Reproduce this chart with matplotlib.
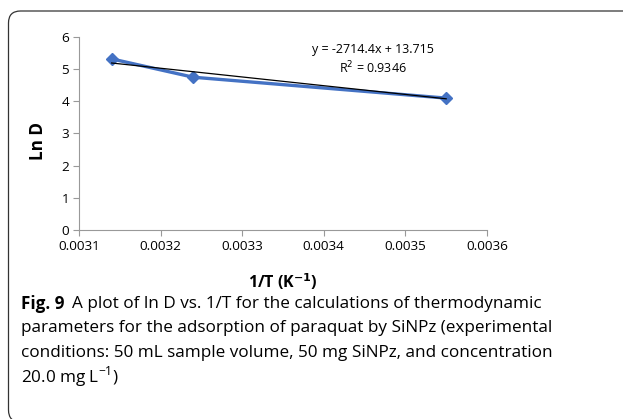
import matplotlib
matplotlib.use("Agg")
import matplotlib.pyplot as plt
from matplotlib.patches import FancyBboxPatch
import numpy as np

inv_T = [0.00314, 0.00324, 0.00355]
ln_D = [5.32, 4.75, 4.10]
slope, intercept = -2714.4, 13.715
r2 = 0.9346
xticks = [0.0031, 0.0032, 0.0033, 0.0034, 0.0035, 0.0036]
yticks = [0, 1, 2, 3, 4, 5, 6]

W, H = 623, 419
fig = plt.figure(figsize=(W/100, H/100), dpi=100)
font = "Open Sans"

# rounded frame (inches, 1 in = 100 px)
frame = FancyBboxPatch((0.085, -0.03), 6.6, (H - 11 + 3)/100,
                       boxstyle="round,pad=0,rounding_size=0.12",
                       transform=fig.dpi_scale_trans, fill=False,
                       edgecolor="#333333", linewidth=0.9, clip_on=False)
fig.patches.append(frame)

ax = fig.add_axes([79/W, 1-230/H, (487-79)/W, (230-37)/H])
ax.set_xlim(0.0031, 0.0036)
ax.set_ylim(0, 6)
ax.set_xticks(xticks)
ax.set_xticklabels([f"{v:.4f}" for v in xticks], fontfamily=font, fontsize=9.7)
ax.set_yticks(yticks)
ax.set_yticklabels([str(v) for v in yticks], fontfamily=font, fontsize=9.7)
for s in ["top", "right"]:
    ax.spines[s].set_visible(False)
for s in ["left", "bottom"]:
    ax.spines[s].set_color("#999999")
    ax.spines[s].set_linewidth(0.8)
ax.tick_params(direction="out", length=4, color="#999999", width=0.8, pad=3)
ax.patch.set_alpha(0)

ax.plot(inv_T, ln_D, color="#4472C4", linewidth=2.4, marker="D",
        markersize=6, zorder=3)
xt = np.array([inv_T[0], inv_T[-1]])
ax.plot(xt, slope*xt + intercept, color="black", linewidth=0.9, zorder=4)

fig.text(373/W, 1-49/H, f"y = {slope}x + {intercept}",
         ha="center", va="center", fontfamily=font, fontsize=9)
fig.text(373/W, 1-68/H, f"R$^2$ = {r2}",
         ha="center", va="center", fontfamily=font, fontsize=9)

fig.text(38/W, 1-141/H, "Ln D", rotation=90, ha="center", va="center",
         fontfamily=font, fontsize=12.3, fontweight="bold")
fig.text(283/W, 1-282/H, "1/T (K$^{\\mathbf{-1}}$)", ha="center", va="center",
         fontfamily=font, fontsize=11.5, fontweight="bold")

cap_font = "Open Sans"
cap_size = 12.3
lines = [
    "A plot of ln D vs. 1/T for the calculations of thermodynamic",
    "parameters for the adsorption of paraquat by SiNPz (experimental",
    "conditions: 50 mL sample volume, 50 mg SiNPz, and concentration",
    "20.0 mg L$^{\\mathregular{-1}}$)",
]
y0 = 304
t = fig.text(21/W, 1-y0/H, "Fig. 9", ha="left", va="center",
             fontfamily=cap_font, fontsize=cap_size, fontweight="bold")
fig.canvas.draw()
bb = t.get_window_extent()
fig.text((bb.x1 + 8)/W, 1-y0/H, lines[0], ha="left", va="center",
         fontfamily=cap_font, fontsize=cap_size)
for i, ln in enumerate(lines[1:], start=1):
    fig.text(21/W, 1-(y0 + 24.3*i)/H, ln, ha="left", va="center",
             fontfamily=cap_font, fontsize=cap_size)

fig.savefig("out.png", dpi=100)
